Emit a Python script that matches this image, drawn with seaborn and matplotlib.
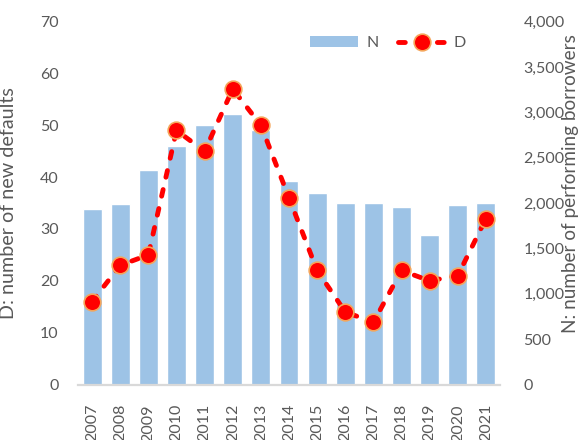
#!/usr/bin/env python

import matplotlib
matplotlib.use('Agg')
import matplotlib.pyplot as plt
import seaborn as sns
from matplotlib.lines import Line2D
from matplotlib.patches import Patch
from matplotlib.ticker import FuncFormatter, MultipleLocator

# values
years = [str(y) for y in range(2007, 2022)]
n_borrowers = [1930, 1990, 2360, 2630, 2865, 2985, 2800, 2245,
               2115, 2005, 2005, 1955, 1650, 1980, 2005]
d_defaults = [16, 23, 25, 49, 45, 57, 50, 36, 22, 14, 12, 22, 20, 21, 32]

BAR = '#9DC3E6'
RED = '#FF0000'
EDGE = '#F5A55A'
GREY = '#595959'
AXIS = '#D9D9D9'
FS = 11.5
FS_TITLE = 14.2

sns.set_style('white')
plt.rcParams['font.family'] = ['Lato', 'DejaVu Sans']

fig = plt.figure(figsize=(5.78, 4.40), dpi=100)
ax = fig.add_axes([0.135, 0.126, 0.73, 0.825])
ax2 = ax.twinx()

sns.barplot(x=years, y=n_borrowers, ax=ax2, color=BAR, width=0.67,
            saturation=1, errorbar=None)

line_kw = dict(color=RED, linewidth=3.5, linestyle=(0, (1.4, 2.6)),
               dash_capstyle='round', marker='o', markersize=12,
               markerfacecolor=RED, markeredgecolor=EDGE, markeredgewidth=1.2)
sns.pointplot(x=years, y=d_defaults, ax=ax, errorbar=None, **line_kw)

# put the line axes above the bars
ax.set_zorder(ax2.get_zorder() + 1)
ax.patch.set_visible(False)

ax.set_xlim(-0.5, len(years) - 0.5)
ax.set_ylim(0, 70)
ax2.set_ylim(0, 4000)
ax.yaxis.set_major_locator(MultipleLocator(10))
ax2.yaxis.set_major_locator(MultipleLocator(500))
ax2.yaxis.set_major_formatter(FuncFormatter(lambda v, p: '{:,.0f}'.format(v)))

ax.tick_params(axis='y', length=0, pad=14, labelcolor=GREY, labelsize=FS)
ax2.tick_params(axis='y', length=0, pad=17, labelcolor=GREY, labelsize=FS)
ax.tick_params(axis='x', length=0, pad=14, labelcolor=GREY, labelsize=FS,
               labelrotation=90)
ax2.set_xlabel('')
ax.set_xlabel('')

for side in ['left', 'right', 'top']:
    ax.spines[side].set_visible(False)
for side in ax2.spines:
    ax2.spines[side].set_visible(False)
ax.spines['bottom'].set_color(AXIS)
ax.spines['bottom'].set_linewidth(1.6)

ax.set_ylabel('D: number of new defaults', color=GREY, fontsize=FS_TITLE)
ax.yaxis.set_label_coords(-0.1445, 0.5)
ax2.set_ylabel('N: number of performing borrowers', color=GREY,
               fontsize=13.6)
ax2.yaxis.set_label_coords(1.148, 0.555)

handles = [Patch(facecolor=BAR, edgecolor='none'), Line2D([], [], **line_kw)]
ax.legend(handles, ['N', 'D'], loc='center', bbox_to_anchor=(0.735, 0.94),
          ncol=2, frameon=False, fontsize=FS, labelcolor=GREY,
          handlelength=3.0, columnspacing=1.2, handletextpad=0.5)

plt.savefig('out.png', dpi=100)
